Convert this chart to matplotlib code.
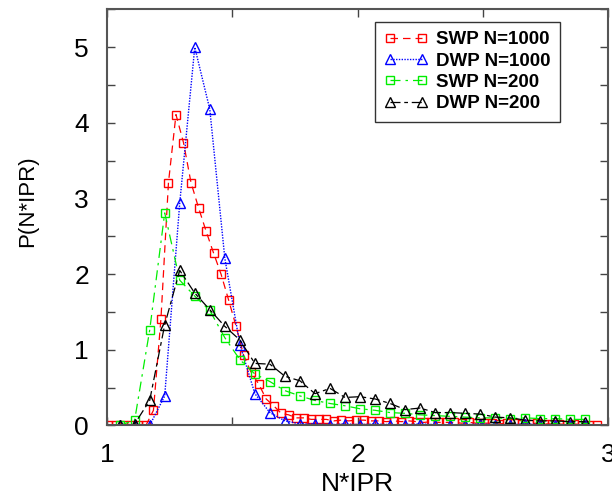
import numpy as np
import matplotlib
matplotlib.use("Agg")
import matplotlib.pyplot as plt
from matplotlib.ticker import MultipleLocator

plt.rcParams['font.family'] = ['Liberation Sans', 'DejaVu Sans']

# bins: N=1000 SWP uses width 0.03, the others 0.06
x_fine0, dx_fine = 1.005, 0.03
x_coarse0, dx_coarse = 1.05, 0.06

swp_1000 = [0, 0, 0, 0, 0, 0, 0.20, 1.41, 3.21, 4.11, 3.74, 3.21, 2.88, 2.57, 2.28,
            2.00, 1.66, 1.31, 0.93, 0.70, 0.55, 0.35, 0.26, 0.16, 0.14, 0.10, 0.10,
            0.08, 0.08, 0.08, 0.06, 0.07, 0.06, 0.07, 0.07, 0.06, 0.06, 0.05, 0.06,
            0.05, 0.06, 0.05, 0.04, 0.05, 0.04, 0.04, 0.04, 0.03, 0.04, 0.03, 0.03,
            0.03, 0.02, 0.03, 0.03, 0.02, 0.02, 0.03, 0.02, 0.02, 0.02, 0.01, 0.02,
            0.01, 0.01, 0.01]
dwp_1000 = [0, 0, 0, 0.39, 2.94, 5.00, 4.18, 2.21, 1.07, 0.42, 0.17, 0.06, 0.02,
            0.02, 0.01, 0.02, 0.01, 0.02, 0.01, 0.01, 0.02, 0.01, 0.01, 0.01, 0.02,
            0.01, 0.01, 0.02, 0.01, 0.01, 0.01, 0.01]
swp_200 = [0, 0.07, 1.26, 2.81, 1.92, 1.71, 1.52, 1.16, 0.87, 0.68, 0.58, 0.46,
           0.39, 0.33, 0.29, 0.26, 0.22, 0.20, 0.17, 0.16, 0.14, 0.13, 0.12, 0.11,
           0.10, 0.10, 0.09, 0.10, 0.09, 0.09, 0.08, 0.08]
dwp_200 = [0, 0.02, 0.33, 1.33, 2.05, 1.75, 1.53, 1.31, 1.13, 0.82, 0.81, 0.65,
           0.59, 0.42, 0.49, 0.37, 0.38, 0.35, 0.29, 0.21, 0.23, 0.17, 0.17, 0.16,
           0.15, 0.11, 0.10, 0.07, 0.06, 0.06, 0.05, 0.05]

labels = ['SWP N=1000', 'DWP N=1000', 'SWP N=200', 'DWP N=200']

x_fine = x_fine0 + dx_fine * np.arange(len(swp_1000))
x_coarse = x_coarse0 + dx_coarse * np.arange(len(dwp_1000))

fig = plt.figure(figsize=(6.12, 4.97), dpi=100)
ax = fig.add_axes([0.175, 0.144, 0.8185, 0.837])

ax.plot(x_fine, swp_1000, color='red', ls=(0, (6, 4)), lw=0.9, marker='s',
        ms=5.5, mfc='none', mec='red', mew=1.0, label=labels[0])
ax.plot(x_coarse, dwp_1000, color='blue', ls=(0, (1, 1)), lw=1.0, marker='^',
        ms=6.8, mfc='none', mec='blue', mew=1.0, label=labels[1])
ax.plot(x_coarse, swp_200, color='#00ee00', ls=(0, (8, 4, 2, 4)), lw=0.9, marker='s',
        ms=5.5, mfc='none', mec='#00ee00', mew=1.0, label=labels[2])
ax.plot(x_coarse, dwp_200, color='black', ls=(0, (8, 3, 3, 3)), lw=0.9, marker='^',
        ms=6.8, mfc='none', mec='black', mew=1.0, label=labels[3])

ax.set_xlim(1, 3)
ax.set_ylim(0, 5.5)
ax.xaxis.set_major_locator(MultipleLocator(1))
ax.xaxis.set_minor_locator(MultipleLocator(0.5))
ax.yaxis.set_major_locator(MultipleLocator(1))
ax.yaxis.set_minor_locator(MultipleLocator(0.5))
ax.tick_params(which='both', direction='in', top=True, right=True, length=6,
               width=1, color='#444444', labelsize=19, pad=13)

for s in ax.spines.values():
    s.set_color('#555555')
    s.set_linewidth(1.5)

ax.set_xlabel('N*IPR', fontsize=19, labelpad=3)
ax.set_ylabel('P(N*IPR)', fontsize=16)
ax.yaxis.set_label_coords(-0.138, 0.538)

leg = ax.legend(loc='upper right', bbox_to_anchor=(560 / 612, 1 - 22 / 497),
                bbox_transform=fig.transFigure, numpoints=2, handlelength=2.3,
                fancybox=False, framealpha=1, edgecolor='#333333',
                prop={'weight': 'bold', 'size': 13.5}, borderaxespad=0,
                labelspacing=0.22, handletextpad=0.45, borderpad=0.5)
leg.get_frame().set_linewidth(1.0)

fig.savefig('out.png', dpi=100)
